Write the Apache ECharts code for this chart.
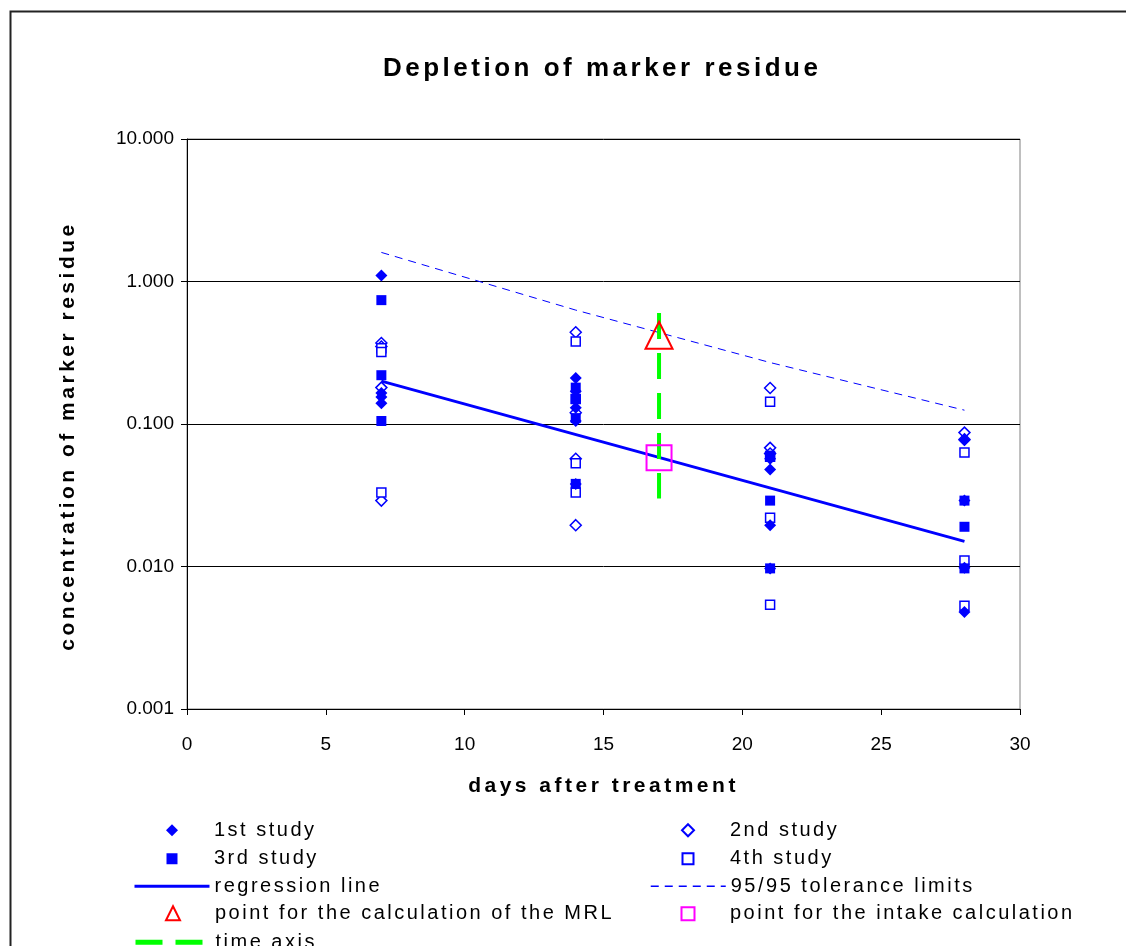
<!DOCTYPE html>
<html>
<head>
<meta charset="utf-8">
<script src="https://cdn.jsdelivr.net/npm/echarts@6/dist/echarts.min.js"></script>
<style>
html,body{margin:0;padding:0;background:#fff;}
#chart{width:1126px;height:946px;}
</style>
</head>
<body>
<div id="chart"></div>
<script>
// ---- data ----
const xTicks = [0, 5, 10, 15, 20, 25, 30];
const yTicks = [0.001, 0.01, 0.1, 1, 10];
const study1 = [[7,1.10],[7,0.165],[7,0.155],[7,0.14],[14,0.21],[14,0.17],[14,0.13],[14,0.105],[14,0.038],[21,0.057],[21,0.048],[21,0.0195],[21,0.0097],[28,0.077],[28,0.029],[28,0.0098],[28,0.0048]];
const study2 = [[7,0.37],[7,0.35],[7,0.18],[7,0.029],[14,0.44],[14,0.12],[14,0.057],[14,0.0195],[21,0.179],[21,0.068],[21,0.062],[28,0.087],[28,0.078]];
const study3 = [[7,0.74],[7,0.22],[7,0.105],[14,0.18],[14,0.15],[14,0.11],[14,0.038],[21,0.06],[21,0.029],[21,0.0097],[28,0.029],[28,0.019],[28,0.0097]];
const study4 = [[7,0.34],[7,0.32],[7,0.033],[14,0.38],[14,0.15],[14,0.053],[14,0.033],[21,0.143],[21,0.059],[21,0.022],[21,0.0054],[28,0.063],[28,0.011],[28,0.0053]];
const regression = [[7,0.2],[28,0.015]];
const tolerance = [[7,1.6],[14,0.63],[21,0.27],[28,0.125]];
const mrlPoint = [[17,0.42]];
const intakePoint = [[17,0.058]];
const timeAxis = [[17,0.6],[17,0.03]];
const names = ['1st study','2nd study','3rd study','4th study','regression line','95/95 tolerance limits','point for the calculation of the MRL','point for the intake calculation','time axis'];

// letter spacing helper: a font family marker "lsN" => N/10 px letter spacing
(function(){
  var P = window.CanvasRenderingContext2D && CanvasRenderingContext2D.prototype;
  if (!P || !('letterSpacing' in P)) return;
  function setLS(ctx){
    var m = /\bls(\d+)\b/.exec(ctx.font || '');
    var v = m ? (parseInt(m[1], 10) / 10) + 'px' : '0px';
    if (ctx.letterSpacing !== v) ctx.letterSpacing = v;
  }
  ['fillText','strokeText','measureText'].forEach(function(k){
    var o = P[k];
    P[k] = function(){ setLS(this); return o.apply(this, arguments); };
  });
})();

const F = "'Liberation Sans'";
const BLUE = '#0000ff';

// legend: one component per row so nothing wraps
// marker rows: small icon box centred on x, text pushed to the text column
const legendRows = [
  {x: 172, top: 819, icon: 12, item: {name: names[0]}},
  {x: 172, top: 847, icon: 11, item: {name: names[2]}},
  {line: 133, top: 875, item: {name: names[4], itemStyle: {opacity: 0}, lineStyle: {width: 3}}},
  {x: 172, top: 903, icon: 14, item: {name: names[6]}},
  {line: 133, top: 931, item: {name: names[8], itemStyle: {opacity: 0}, lineStyle: {width: 5, type: [27, 13]}}},
  {x: 687, top: 819, icon: 12, item: {name: names[1]}},
  {x: 687, top: 847, icon: 11, item: {name: names[3]}},
  {line: 650, top: 875, item: {name: names[5], itemStyle: {opacity: 0}, lineStyle: {width: 1.5, type: [8, 6]}}},
  {x: 687, top: 903, icon: 13, item: {name: names[7]}}
];
const legends = legendRows.map(r => {
  const isLine = r.line !== undefined;
  const ic = isLine ? 12 : r.icon;
  const left = isLine ? r.line : r.x - ic / 2;
  const w = isLine ? 75 : ic;
  const textStart = isLine ? r.line + 75 + 5 : r.x + 42;
  const pad = textStart - (left + w + 5);
  return {
    left: left, top: r.top + (12 - ic) / 2, orient: 'horizontal', padding: 0,
    itemWidth: w, itemHeight: ic, symbolKeepAspect: true, selectedMode: false,
    textStyle: {fontFamily: F + ', ls25', fontSize: 20, color: '#000', lineHeight: 20, padding: [0, 0, 0, pad]},
    data: [r.item]
  };
});

const chart = echarts.init(document.getElementById('chart'), null, {renderer:'canvas'});
chart.setOption({
  animation: false,
  backgroundColor: '#fff',
  title: {
    text: 'Depletion of marker residue',
    left: 378, top: 49,
    textStyle: {fontFamily: F + ', ls35', fontWeight: 'bold', fontSize: 26, color: '#000'}
  },
  graphic: [{
    type: 'rect', z: -10, silent: true,
    shape: {x: 10.5, y: 11.5, width: 2000, height: 2000},
    style: {fill: 'none', stroke: '#222', lineWidth: 2}
  }],
  grid: {left: 187, top: 139, width: 833, height: 570, show: true, borderColor: '#808080', borderWidth: 1},
  xAxis: {
    type: 'value', min: xTicks[0], max: xTicks[xTicks.length-1], interval: 5,
    name: 'days after treatment', nameLocation: 'middle', nameGap: 65,
    nameTextStyle: {fontFamily: F + ', ls35', fontWeight: 'bold', fontSize: 21, color: '#000'},
    axisLine: {onZero: false, lineStyle: {color: '#000', width: 1}},
    axisTick: {show: true, inside: false, length: 6, lineStyle: {color: '#000'}},
    axisLabel: {fontFamily: F, fontSize: 19, color: '#000', margin: 26},
    splitLine: {show: false}
  },
  yAxis: {
    type: 'log', logBase: 10, min: yTicks[0], max: yTicks[yTicks.length-1],
    name: 'concentration of marker residue', nameLocation: 'middle', nameGap: 107,
    nameTextStyle: {fontFamily: F + ', ls35', fontWeight: 'bold', fontSize: 21, color: '#000', padding: [0, 24, 0, 0]},
    axisLine: {show: true, lineStyle: {color: '#000', width: 1}},
    axisTick: {show: true, inside: false, length: 6, lineStyle: {color: '#000'}},
    axisLabel: {fontFamily: F, fontSize: 19, color: '#000', margin: 13, formatter: v => Number(v).toFixed(3)},
    splitLine: {show: true, lineStyle: {color: '#000', width: 1}},
    minorTick: {show: false}
  },
  legend: legends,
  series: [
    {name: names[5], type: 'line', data: tolerance, symbol: 'none', z: 2,
     lineStyle: {color: BLUE, width: 1, type: [8, 6]}, itemStyle: {color: BLUE}},
    {name: names[4], type: 'line', data: regression, symbol: 'none', z: 3,
     lineStyle: {color: BLUE, width: 3}, itemStyle: {color: BLUE}},
    {name: names[8], type: 'line', data: timeAxis, symbol: 'none', z: 3,
     lineStyle: {color: '#00ff00', width: 4, type: [26, 14]}, itemStyle: {color: '#00ff00'}},
    {name: names[1], type: 'scatter', data: study2, symbol: 'diamond', symbolSize: 11, z: 4,
     itemStyle: {color: '#fff', borderColor: BLUE, borderWidth: 1.5, opacity: 1}},
    {name: names[3], type: 'scatter', data: study4, symbol: 'rect', symbolSize: 9, z: 4,
     itemStyle: {color: '#fff', borderColor: BLUE, borderWidth: 1.5, opacity: 1}},
    {name: names[0], type: 'scatter', data: study1, symbol: 'diamond', symbolSize: 12, z: 5,
     itemStyle: {color: BLUE, opacity: 1}},
    {name: names[2], type: 'scatter', data: study3, symbol: 'rect', symbolSize: 10, z: 5,
     itemStyle: {color: BLUE, opacity: 1}},
    {name: names[6], type: 'scatter', data: mrlPoint, symbol: 'triangle', symbolSize: 27, z: 6,
     itemStyle: {color: 'rgba(0,0,0,0)', borderColor: '#ff0000', borderWidth: 2, opacity: 1}},
    {name: names[7], type: 'scatter', data: intakePoint, symbol: 'rect', symbolSize: 25, z: 6,
     itemStyle: {color: 'rgba(0,0,0,0)', borderColor: '#ff00ff', borderWidth: 2, opacity: 1}}
  ]
});
</script>
</body>
</html>
